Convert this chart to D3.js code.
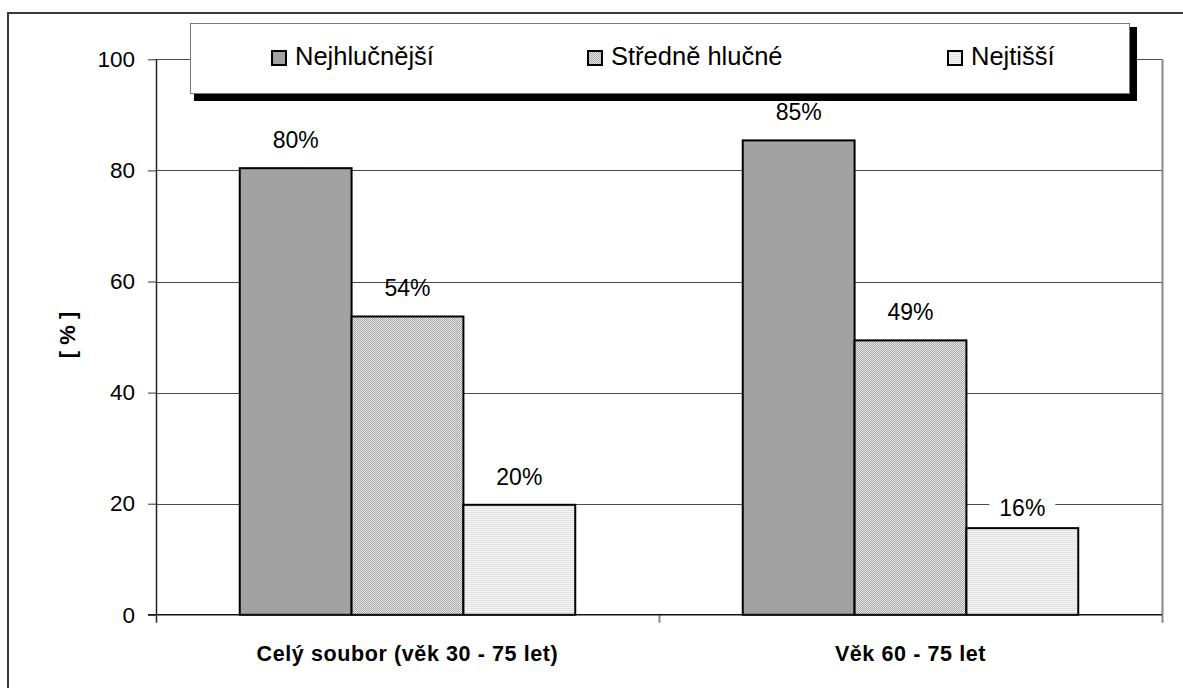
<!DOCTYPE html>
<html>
<head>
<meta charset="utf-8">
<script src="https://cdn.jsdelivr.net/npm/d3@7"></script>
<style>
  html, body { margin: 0; padding: 0; background: #fff; }
  svg { display: block; }
  text { font-family: "Liberation Sans", Arial, sans-serif; fill: #000; }
</style>
</head>
<body>
<svg id="chart" width="1183" height="688"></svg>
<script>
// ---- data ----
const categories = ["Celý soubor (věk 30 - 75 let)", "Věk 60 - 75 let"];
const seriesNames = ["Nejhlučnější", "Středně hlučné", "Nejtišší"];
const valuesNejhlucnejsi = [80.4, 85.4];
const valuesStredne = [53.7, 49.4];
const valuesNejtissi = [19.8, 15.6];
const yTicks = [0, 20, 40, 60, 80, 100];
const yTitle = "[ % ]";

const seriesValues = [valuesNejhlucnejsi, valuesStredne, valuesNejtissi];

const svg = d3.select("#chart");
const W = 1183, H = 688;

// patterns
const defs = svg.append("defs");
const pDark = defs.append("pattern").attr("id", "pDark").attr("patternUnits", "userSpaceOnUse").attr("width", 2).attr("height", 2);
pDark.append("rect").attr("width", 2).attr("height", 2).attr("fill", "#a3a3a3");
pDark.append("rect").attr("width", 1).attr("height", 1).attr("fill", "#9f9f9f");

const pMed = defs.append("pattern").attr("id", "pMed").attr("patternUnits", "userSpaceOnUse").attr("width", 2).attr("height", 2);
pMed.append("rect").attr("width", 2).attr("height", 2).attr("fill", "#e6e6e6");
pMed.append("rect").attr("x", 0).attr("y", 0).attr("width", 1).attr("height", 1).attr("fill", "#a8a8a8");
pMed.append("rect").attr("x", 1).attr("y", 1).attr("width", 1).attr("height", 1).attr("fill", "#a8a8a8");

const pLight = defs.append("pattern").attr("id", "pLight").attr("patternUnits", "userSpaceOnUse").attr("width", 2).attr("height", 2);
pLight.append("rect").attr("width", 2).attr("height", 2).attr("fill", "#f4f4f4");
pLight.append("rect").attr("y", 0).attr("width", 2).attr("height", 1).attr("fill", "#e2e2e2");

const fills = ["url(#pDark)", "url(#pMed)", "url(#pLight)"];

// outer border
svg.append("rect").attr("x", 8).attr("y", 13).attr("width", W).attr("height", H)
  .attr("fill", "#fff").attr("stroke", "#3a3a3a").attr("stroke-width", 2);

// scales
const plotLeft = 156, plotRight = 1162, plotTop = 59.3, plotBottom = 614.8;
const y = d3.scaleLinear().domain([0, 100]).range([plotBottom, plotTop]);
const x0 = d3.scaleBand().domain(categories).range([plotLeft, plotRight]).padding(0);
const bw = x0.bandwidth();
const x1 = d3.scaleBand().domain(seriesNames).range([bw * 0.1665, bw * 0.8335]).padding(0);

// gridlines
svg.append("g").selectAll("line").data(yTicks.filter(d => d > 0)).join("line")
  .attr("x1", plotLeft).attr("x2", plotRight)
  .attr("y1", d => Math.round(y(d)) + 0.5).attr("y2", d => Math.round(y(d)) + 0.5)
  .attr("stroke", "#4a4a4a").attr("stroke-width", 1);

// plot area right border (gray)
svg.append("line").attr("x1", plotRight + 0.5).attr("x2", plotRight + 0.5)
  .attr("y1", y(100)).attr("y2", plotBottom + 8)
  .attr("stroke", "#888").attr("stroke-width", 2);

// category ticks
svg.append("g").selectAll("line").data(categories.slice(1)).join("line")
  .attr("x1", d => x0(d) + 0.5).attr("x2", d => x0(d) + 0.5)
  .attr("y1", plotBottom).attr("y2", plotBottom + 8)
  .attr("stroke", "#888").attr("stroke-width", 2);

// bars
const groups = svg.append("g").selectAll("g").data(categories).join("g")
  .attr("transform", d => `translate(${x0(d)},0)`);

groups.selectAll("rect").data((c, ci) => seriesNames.map((s, si) => ({ s, si, v: seriesValues[si][ci] })))
  .join("rect")
  .attr("x", d => x1(d.s))
  .attr("width", x1.bandwidth())
  .attr("y", d => y(d.v))
  .attr("height", d => plotBottom - y(d.v))
  .attr("fill", d => fills[d.si])
  .attr("stroke", "#000").attr("stroke-width", 2);

// value labels
const labelData = [];
categories.forEach((c, ci) => seriesNames.forEach((s, si) => labelData.push({ c, s, si, ci, v: seriesValues[si][ci] })));
const lastIdx = labelData.length - 1;
const labelG = svg.append("g");
labelData.forEach((d, i) => {
  const cx = x0(d.c) + x1(d.s) + x1.bandwidth() / 2;
  const off = i === lastIdx ? 12 : 20;
  const by = y(d.v) - off;
  if (i === lastIdx) {
    labelG.append("rect").attr("x", cx - 33).attr("y", by - 21).attr("width", 66).attr("height", 27)
      .attr("fill", "#fff");
  }
  labelG.append("text").attr("x", cx).attr("y", by)
    .attr("text-anchor", "middle").attr("font-size", 23)
    .text(Math.round(d.v) + "%");
});

// x axis line
svg.append("line").attr("x1", plotLeft - 8).attr("x2", plotRight)
  .attr("y1", plotBottom).attr("y2", plotBottom)
  .attr("stroke", "#111").attr("stroke-width", 1.5);

// y axis
const yAxis = d3.axisLeft(y).tickValues(yTicks).tickSize(8).tickPadding(13).tickFormat(d3.format("d"));
const yg = svg.append("g").attr("transform", `translate(${plotLeft},0)`).call(yAxis);
yg.select(".domain").remove();
yg.selectAll(".tick line").attr("stroke", "#333");
yg.selectAll(".tick text").attr("font-size", 22.5).attr("font-family", "Liberation Sans, Arial, sans-serif").attr("fill", "#000");
svg.append("line").attr("x1", plotLeft + 0.5).attr("x2", plotLeft + 0.5)
  .attr("y1", y(100)).attr("y2", plotBottom + 8)
  .attr("stroke", "#222").attr("stroke-width", 1.5);

// category labels
svg.append("g").selectAll("text").data(categories).join("text")
  .attr("x", d => x0(d) + bw / 2).attr("y", 661)
  .attr("text-anchor", "middle").attr("font-size", 21.5).attr("font-weight", "bold")
  .attr("letter-spacing", 0.6)
  .text(d => d);

// y title
svg.append("text").attr("transform", "translate(67,335) rotate(-90)")
  .attr("text-anchor", "middle").attr("dominant-baseline", "central")
  .attr("font-size", 22).attr("font-weight", "bold").text(yTitle);

// legend
svg.append("rect").attr("x", 194).attr("y", 27).attr("width", 943).attr("height", 74).attr("fill", "#000");
svg.append("rect").attr("x", 190.5).attr("y", 23.5).attr("width", 939).attr("height", 70)
  .attr("fill", "#fff").attr("stroke", "#777").attr("stroke-width", 1);
const legendTextX = [295, 611, 971];
const leg = svg.append("g").selectAll("g").data(seriesNames).join("g");
leg.append("rect").attr("x", (d, i) => legendTextX[i] - 23).attr("y", 51)
  .attr("width", 14).attr("height", 14)
  .attr("fill", (d, i) => fills[i]).attr("stroke", "#000").attr("stroke-width", 2);
leg.append("text").attr("x", (d, i) => legendTextX[i]).attr("y", 65)
  .attr("font-size", 25.5).text(d => d);
</script>
</body>
</html>
